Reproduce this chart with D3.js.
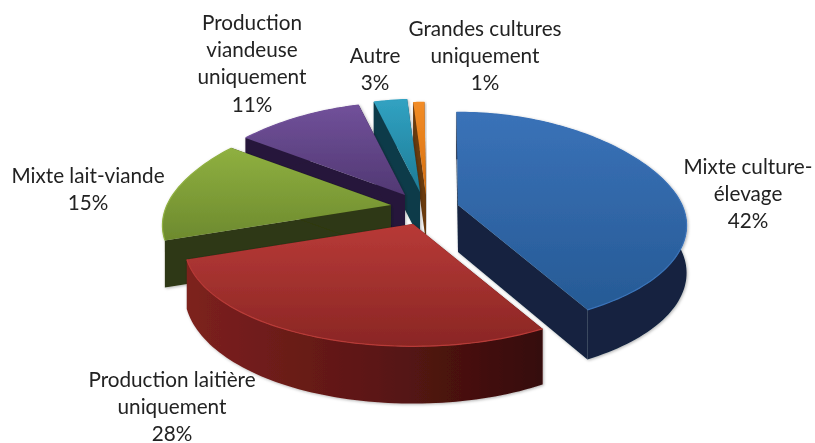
<!DOCTYPE html>
<html lang="fr">
<head>
    <meta charset="UTF-8">
    <title>Exploitations par production</title>
    <script src="https://d3js.org/d3.v7.min.js"></script>
    <style>
        html, body { margin: 0; padding: 0; background: #fff; }
        svg { display: block; }
        text { font-family: Lato, "Open Sans", sans-serif; font-size: 20.7px; fill: #222; text-anchor: middle; }
    </style>
</head>
<body>
<svg id="chart" width="815" height="443"></svg>
<script>
    // values in percent, clockwise from 12 o'clock
    const categories = ["Mixte culture-élevage", "Production laitière uniquement", "Mixte lait-viande",
        "Production viandeuse uniquement", "Autre", "Grandes cultures uniquement"];
    const values = [42, 28, 15, 11, 3, 1];

    const labelLines = [
        ["Mixte culture-", "élevage"],
        ["Production laitière", "uniquement"],
        ["Mixte lait-viande"],
        ["Production", "viandeuse", "uniquement"],
        ["Autre"],
        ["Grandes cultures", "uniquement"]
    ];

    // layout, same order as the categories
    const apex = [[458, 205], [413, 224], [391, 205], [405, 195], [420, 192], [426, 195]];
    const labelPos = [[748, 174], [172, 387], [88, 183], [252, 30], [375, 63], [485, 36]];
    const topColor = [["#3a72b8", "#265a95"], ["#b83a37", "#8a2624"], ["#8fb040", "#6d8a2e"],
        ["#71519a", "#513873"], ["#31a2c2", "#1e7b96"], ["#f28c26", "#d66f10"]];
    const wallColor = ["#12243f", "#5a1614", "#2f3812", "#26183a", "#103b4a", "#6a3a10"];
    const depthGrow = [0.06, 0.18, 0, 0, 0, 0];
    const drawOrder = [5, 4, 3, 2, 0, 1];

    const rx = 224, ry = 107, depth = 47, lineH = 27.2;
    // perspective strength, near and far side, x and y
    const kNearX = 0.16, kNearY = 0.12, kFarX = 0.27, kFarY = 0.16;

    const svg = d3.select("#chart");
    const defs = svg.append("defs");

    topColor.forEach((c, i) => {
        const g = defs.append("linearGradient").attr("id", "top" + i)
            .attr("x1", 0).attr("y1", 0).attr("x2", 0).attr("y2", 1);
        g.append("stop").attr("offset", 0).attr("stop-color", c[0]);
        g.append("stop").attr("offset", 1).attr("stop-color", c[1]);
    });

    // the red front wall gets darker to the right
    const redWall = defs.append("linearGradient").attr("id", "redWall");
    redWall.append("stop").attr("offset", 0).attr("stop-color", "#7d211e");
    redWall.append("stop").attr("offset", 0.55).attr("stop-color", "#5a1614");
    redWall.append("stop").attr("offset", 1).attr("stop-color", "#350c0a");

    const shadow = defs.append("filter").attr("id", "soft")
        .attr("x", "-5%").attr("y", "-5%").attr("width", "110%").attr("height", "110%");
    shadow.append("feDropShadow").attr("dx", 1).attr("dy", 1).attr("stdDeviation", 1.5)
        .attr("flood-color", "#000").attr("flood-opacity", 0.3);

    // the reference is an upscaled bitmap, everything is slightly soft
    defs.append("filter").attr("id", "blur")
        .append("feGaussianBlur").attr("stdDeviation", 0.45);

    const pie = d3.pie().sort(null)
        .startAngle(-0.5 * Math.PI / 180)
        .endAngle(359.5 * Math.PI / 180);
    const arcs = pie(values);

    // near and far side shrink differently, rounded off around v = 0 so the rim has no corner
    function shrink(v, near, far) {
        const e = 0.3;
        return 1 - ((near + far) / 2 * v + (near - far) / 2 * (Math.sqrt(v * v + e * e) - e));
    }

    // unit circle angle to screen offset
    function project(t) {
        const u = Math.sin(t), v = -Math.cos(t);
        return [rx * u / shrink(v, kNearX, kFarX), ry * v / shrink(v, kNearY, kFarY)];
    }

    const line = d3.line();

    function rimPoints(d, i) {
        const n = Math.max(6, Math.round((d.endAngle - d.startAngle) * 40));
        return d3.range(n + 1).map(k => {
            const t = d.startAngle + (d.endAngle - d.startAngle) * k / n;
            const p = project(t);
            return { p: [apex[i][0] + p[0], apex[i][1] + p[1]], t: t };
        });
    }

    const slices = svg.append("g").attr("filter", "url(#blur)");

    drawOrder.forEach(i => {
        const d = arcs[i];
        const rim = rimPoints(d, i);
        const rimLine = rim.map(r => r.p);
        // wall gets taller toward the viewer
        const down = r => {
            const v = Math.max(0, -Math.cos(r.t));
            return [r.p[0], r.p[1] + depth / (1 - depthGrow[i] * v)];
        };
        const bottom = rim.slice().reverse().map(down);
        const g = slices.append("g").attr("filter", "url(#soft)");
        const a = apex[i];

        // radial walls
        [rim[0], rim[rim.length - 1]].forEach(r => {
            g.append("path")
                .attr("d", line([a, r.p, down(r), [a[0], a[1] + depth]]) + "Z")
                .attr("fill", wallColor[i]);
        });
        // outer wall, the green slice shows none of it in the reference
        if (i !== 2) {
            g.append("path")
                .attr("d", line(rimLine.concat(bottom)) + "Z")
                .attr("fill", i === 1 ? "url(#redWall)" : wallColor[i]);
        }
        // top
        g.append("path")
            .attr("d", line([a].concat(rimLine)) + "Z")
            .attr("fill", "url(#top" + i + ")");
        // light rim along the outer edge
        g.append("path")
            .attr("d", line(rimLine))
            .attr("fill", "none")
            .attr("stroke", topColor[i][0])
            .attr("stroke-width", 1.2);
    });

    const labels = svg.append("g").attr("filter", "url(#blur)");
    categories.forEach((c, i) => {
        const t = labels.append("text").attr("transform", `translate(${labelPos[i][0]},${labelPos[i][1]})`);
        labelLines[i].concat([values[i] + "%"]).forEach((s, k) => {
            t.append("tspan").attr("x", 0).attr("y", k * lineH).text(s);
        });
    });
</script>
</body>
</html>
